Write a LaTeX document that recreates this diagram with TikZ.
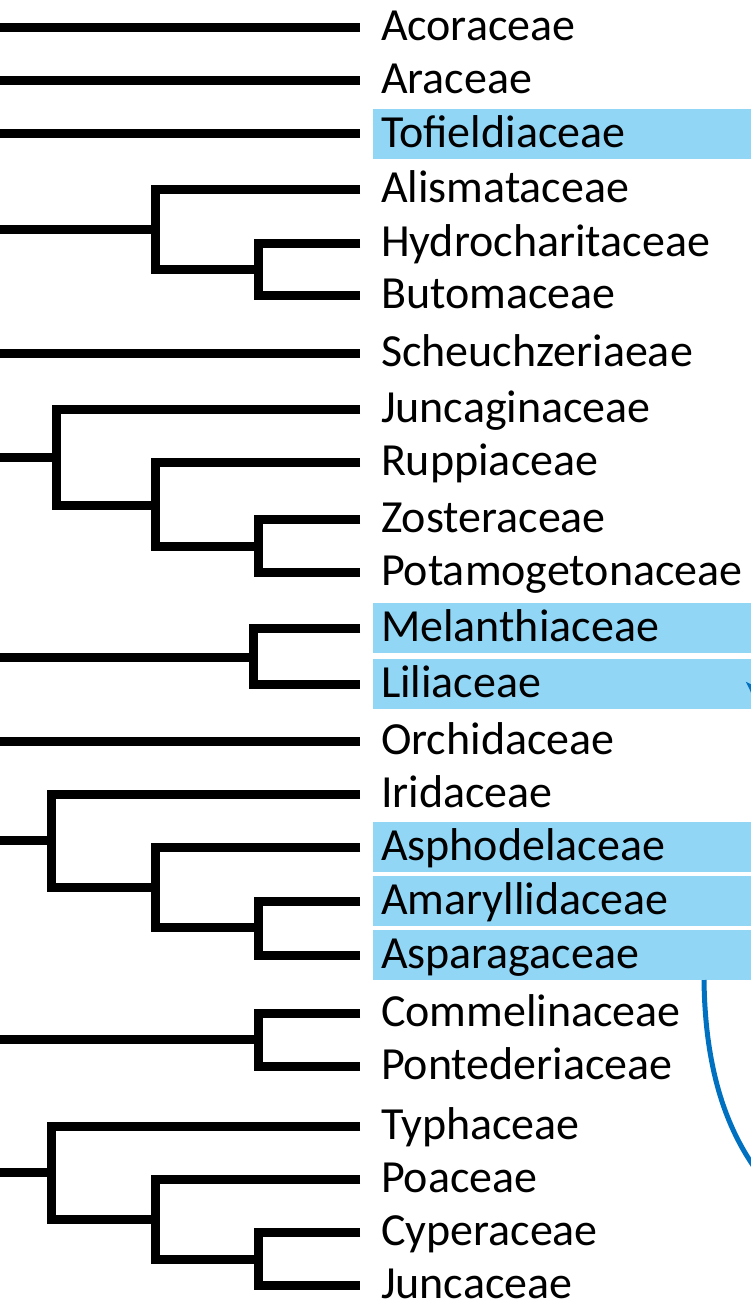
\documentclass[tikz,border=0pt]{standalone}
\usepackage{fontspec}
\setmainfont{Carlito}
\usetikzlibrary{arrows.meta,calc}
\definecolor{cHigh}{RGB}{146,214,246}
\definecolor{cLink}{RGB}{0,112,192}

\begin{document}
\begin{tikzpicture}[x=1pt,y=-1pt,
   branch/.style={line width=9pt,line join=miter},
   taxon/.style={anchor=west,outer xsep=12.5pt,inner xsep=8.5pt,inner ysep=5pt,
     text height=33pt,text depth=7pt,font=\fontsize{46}{50}\selectfont},
   hitaxon/.style={taxon,fill=cHigh,text width=361.5pt,align=left},
   link/.style={cLink,line width=5pt}]
  \clip (0,0) rectangle (751,1303);
  \coordinate (lft) at (0,0);
  % taxa
  \foreach \n/\yy/\txt/\st in {acor/28/Acoraceae/taxon, arac/81/Araceae/taxon,
      tofi/134/Tofieldiaceae/hitaxon, alis/189/Alismataceae/taxon,
      hydr/243/Hydrocharitaceae/taxon, buto/295.5/Butomaceae/taxon,
      sche/353/Scheuchzeriaeae/taxon, jung/409/Juncaginaceae/taxon,
      rupp/462/Ruppiaceae/taxon, zost/519.5/Zosteraceae/taxon,
      pota/572.5/Potamogetonaceae/taxon, mela/628/Melanthiaceae/hitaxon,
      lili/684/Liliaceae/hitaxon, orch/741/Orchidaceae/taxon,
      irid/794/Iridaceae/taxon, asph/847/Asphodelaceae/hitaxon,
      amar/901/Amaryllidaceae/hitaxon, aspa/955/Asparagaceae/hitaxon,
      comm/1013/Commelinaceae/taxon, pont/1066/Pontederiaceae/taxon,
      typh/1126/Typhaceae/taxon, poac/1179.5/Poaceae/taxon,
      cype/1232.5/Cyperaceae/taxon, junc/1285.5/Juncaceae/taxon}
    \node[\st] (\n) at (360,\yy) {\txt};
  % single lineages
  \foreach \n in {acor,arac,tofi,sche,orch}
    \draw[branch] (\n.west -| lft) -- (\n.west);
  % Alismataceae clade
  \coordinate (kHB) at (258,269.25);
  \coordinate (kAl) at (155,229.5);
  \draw[branch] (hydr.west) -| (kHB) |- (buto.west);
  \draw[branch] (alis.west) -| (kAl) |- (kHB);
  \draw[branch] (kAl -| lft) -- (kAl);
  % Juncaginaceae clade
  \coordinate (kZP) at (258,546);
  \coordinate (kRu) at (155,505);
  \coordinate (kJu) at (56,457);
  \draw[branch] (zost.west) -| (kZP) |- (pota.west);
  \draw[branch] (rupp.west) -| (kRu) |- (kZP);
  \draw[branch] (jung.west) -| (kJu) |- (kRu);
  \draw[branch] (kJu -| lft) -- (kJu);
  % Liliales
  \coordinate (kML) at (253.5,657);
  \draw[branch] (mela.west) -| (kML) |- (lili.west);
  \draw[branch] (kML -| lft) -- (kML);
  % Asparagales
  \coordinate (kAA) at (258,927);
  \coordinate (kAs) at (155,887);
  \coordinate (kIr) at (51,840.5);
  \draw[branch] (amar.west) -| (kAA) |- (aspa.west);
  \draw[branch] (asph.west) -| (kAs) |- (kAA);
  \draw[branch] (irid.west) -| (kIr) |- (kAs);
  \draw[branch] (kIr -| lft) -- (kIr);
  % Commelinales
  \coordinate (kCP) at (258.5,1039.5);
  \draw[branch] (comm.west) -| (kCP) |- (pont.west);
  \draw[branch] (kCP -| lft) -- (kCP);
  % Poales
  \coordinate (kCJ) at (258,1259);
  \coordinate (kPo) at (155,1219);
  \coordinate (kTy) at (51,1172.5);
  \draw[branch] (cype.west) -| (kCJ) |- (junc.west);
  \draw[branch] (poac.west) -| (kPo) |- (kCJ);
  \draw[branch] (typh.west) -| (kTy) |- (kPo);
  \draw[branch] (kTy -| lft) -- (kTy);
  % links running off the right edge
  \coordinate (cvA) at (704,980);
  \coordinate (cvB) at (760,1175);
  \draw[link] (cvA) .. controls (705,1060) and (722,1125) .. (cvB);
  \coordinate (arTail) at (790,725);
  \coordinate (arTip) at (745,681);
  \draw[link,-{Latex[length=18pt,width=15pt]}] (arTail) -- (arTip);
\end{tikzpicture}
\end{document}
